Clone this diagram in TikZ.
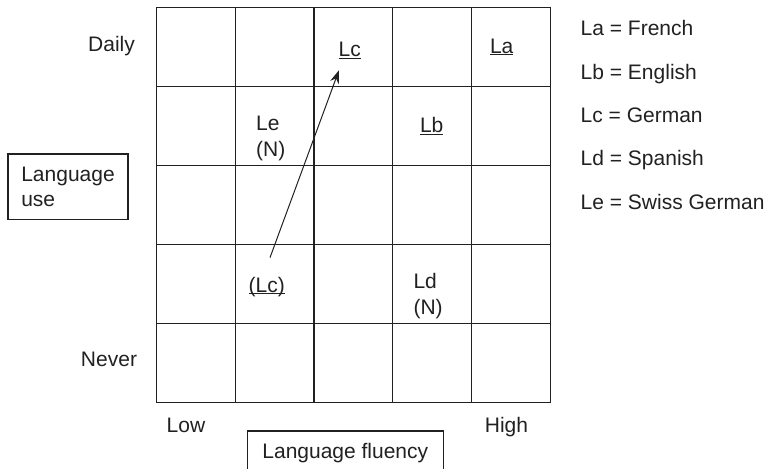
\documentclass[tikz,border=0pt]{standalone}
\usepackage{fontspec}
\setmainfont{Liberation Sans}
\usetikzlibrary{arrows.meta}
\newcommand\uln[1]{\setbox0\hbox{#1}\rlap{\rule[-2pt]{\wd0}{0.9pt}}\box0}
\definecolor{ink}{gray}{0.13}
\begin{document}
\begin{tikzpicture}[x=1pt,y=-1pt,
  txt/.style={font=\fontsize{21}{26}\selectfont, text=ink, inner sep=0pt},
  gridline/.style={draw=ink, line width=1.5pt, line cap=rect},
  box/.style={draw=ink, line width=1.2pt, font=\fontsize{21}{25}\selectfont, text=ink},
  arr/.style={draw=ink, line width=1pt, -{Stealth[length=13pt,width=9pt]}}]
\useasboundingbox (0,0) rectangle (767,468);
% grid
\foreach \x in {156.5,235.3,314,392.7,471.5,550.5} \draw[gridline] (\x,7.5) -- (\x,402.5);
\foreach \y in {7.5,86.5,165.5,244.5,323.5,402.5} \draw[gridline] (156.5,\y) -- (550.5,\y);
% axis labels
\node[txt, anchor=base] (daily) at (111.5,51.7) {Daily};
\node[txt, anchor=base] (never) at (109,366.7) {Never};
\node[txt, anchor=base] (low) at (186,432.7) {Low};
\node[txt, anchor=base] (high) at (506.5,432.7) {High};
\node[box, anchor=north west, minimum width=120pt, minimum height=65.7pt,
      inner xsep=13.4pt, text width=93.2pt, align=left] (use) at (7.3,153.3) {Language\\use};
\node[box, anchor=north, minimum width=196pt, minimum height=39pt,
      text height=15.2pt, text depth=0pt] (fluency) at (345.3,430.3) {Language fluency};
% cell labels
\node[txt, anchor=base] (lcnew) at (349.7,56.7) {\uln{Lc}};
\node[txt, anchor=base] (la) at (501.7,53.3) {\uln{La}};
\node[txt, anchor=base] (lb) at (431.7,132.7) {\uln{Lb}};
\node[txt, anchor=north west, align=left] (le) at (256,116) {Le\\(N)};
\node[txt, anchor=base] (lcold) at (266.7,292) {\uln{(Lc)}};
\node[txt, anchor=north west, align=left] (ld) at (413.3,273.3) {Ld\\(N)};
% arrow
\draw[arr] ([xshift=3.3pt,yshift=19pt]lcold.north) -- ([xshift=-10.7pt,yshift=-11.3pt]lcnew.south);
% legend
\node[txt, anchor=base west] (kla) at (580.5,35.7) {La = French};
\node[txt, anchor=base west] (klb) at (580.5,79.1) {Lb = English};
\node[txt, anchor=base west] (klc) at (580.5,122.5) {Lc = German};
\node[txt, anchor=base west] (kld) at (580.5,165.9) {Ld = Spanish};
\node[txt, anchor=base west] (kle) at (580.5,209.3) {Le = Swiss German};
\end{tikzpicture}
\end{document}
